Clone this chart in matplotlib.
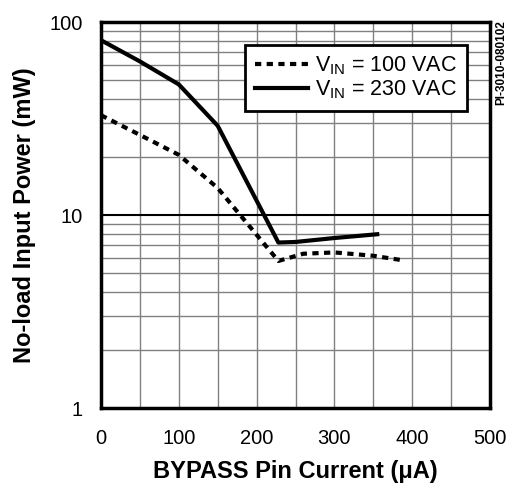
import numpy as np
import matplotlib
matplotlib.use('Agg')
import matplotlib.pyplot as plt
from matplotlib.ticker import FixedLocator, NullFormatter

plt.rcParams['font.family'] = ['Liberation Sans', 'DejaVu Sans']
plt.rcParams['mathtext.fontset'] = 'custom'
plt.rcParams['mathtext.rm'] = 'Liberation Sans'
plt.rcParams['mathtext.it'] = 'Liberation Sans'

# 100 VAC curve (dotted)
i_100 = [0, 50, 100, 150, 228, 260, 300, 350, 385]
p_100 = [32.9, 26.0, 20.5, 13.8, 5.78, 6.3, 6.4, 6.15, 5.85]

# 230 VAC curve (solid)
i_230 = [0, 50, 100, 150, 228, 250, 300, 355]
p_230 = [80.5, 62.5, 47.5, 29.0, 7.2, 7.25, 7.6, 7.95]

x_ticks = [0, 100, 200, 300, 400, 500]
y_ticks = [1, 10, 100]

fig = plt.figure(figsize=(5.08, 4.84), dpi=100)
ax = fig.add_axes([0.1988, 0.157, 0.7658, 0.7975])

ax.set_yscale('log')
ax.set_xlim(0, 500)
ax.set_ylim(1, 100)

# grid
minor_y = [m * d for d in (1, 10) for m in range(2, 10)]
for y in minor_y:
    ax.axhline(y, color='#808080', lw=1.0, zorder=1)
for x in range(50, 500, 50):
    ax.axvline(x, color='#808080', lw=1.0, zorder=1)
ax.axhline(10, color='black', lw=1.5, zorder=2)

ax.plot(i_100, p_100, color='black', lw=3, linestyle=(0, (1.5, 1.3)),
        dash_capstyle='butt', zorder=3, label='V$_{\\mathrm{IN}}$ = 100 VAC')
ax.plot(i_230, p_230, color='black', lw=3, zorder=3,
        label='V$_{\\mathrm{IN}}$ = 230 VAC')

ax.xaxis.set_major_locator(FixedLocator(x_ticks))
ax.yaxis.set_major_locator(FixedLocator(y_ticks))
ax.yaxis.set_minor_locator(FixedLocator([]))
ax.yaxis.set_minor_formatter(NullFormatter())
ax.set_yticklabels(['1', '10', '100'])
ax.tick_params(length=0, labelsize=14.5)
ax.tick_params(axis='x', pad=15)
ax.tick_params(axis='y', pad=13)

for s in ax.spines.values():
    s.set_linewidth(2.5)
    s.set_zorder(4)

ax.set_xlabel('BYPASS Pin Current (μA)', fontsize=17, fontweight='bold', labelpad=9)
ax.set_ylabel('No-load Input Power (mW)', fontsize=17, fontweight='bold', labelpad=10)

leg = ax.legend(loc='upper right', bbox_to_anchor=(0.941, 0.940), borderaxespad=0,
                fontsize=15.5, fancybox=False, framealpha=1, edgecolor='black',
                handlelength=2.5, handletextpad=0.33, labelspacing=0.05,
                borderpad=0.45)
leg.get_frame().set_linewidth(2)
leg.set_zorder(5)

fig.text(0.986, 0.958, 'PI-3010-080102', rotation=90, ha='center', va='top',
         fontsize=8.5, fontweight='bold')

fig.savefig('out.png', dpi=100)
